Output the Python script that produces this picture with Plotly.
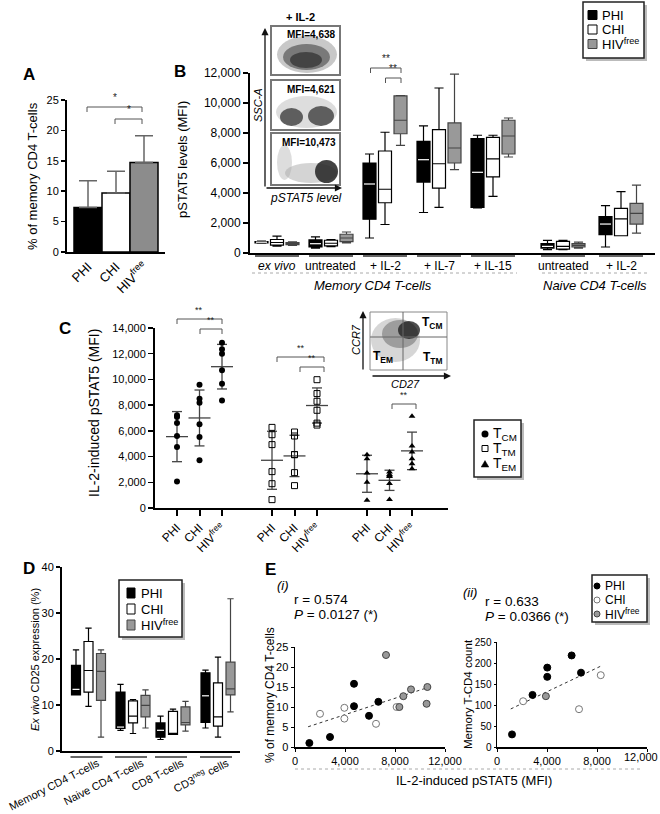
import numpy as np
import plotly.graph_objects as go

W, H = 660, 814
FONT = "Liberation Sans, Arial, Helvetica, sans-serif"
BLACK = "#000000"
GRAY = "#999999"
DGRAY = "#555555"

# ================= DATA =================
GROUP_LABELS = ["PHI", "CHI", "HIV<sup>free</sup>"]

# Panel A: % of memory CD4 T-cells (mean, SD)
A_MEAN = [7.3, 9.7, 14.7]
A_SD = [4.4, 3.6, 4.4]

# Panel B: pSTAT5 MFI box statistics per condition
B_CONDITIONS = ["<i>ex vivo</i>", "untreated", "+ IL-2", "+ IL-7", "+ IL-15", "untreated", "+ IL-2"]
B_POPULATIONS = ["<i>Memory CD4 T-cells</i>", "<i>Naive CD4 T-cells</i>"]
B_PHI_LO = [650, 330, 1000, 2700, 3000, 220, 400]
B_PHI_Q1 = [680, 400, 2250, 4730, 3040, 330, 1230]
B_PHI_MED = [720, 620, 4600, 6220, 5380, 440, 1930]
B_PHI_Q3 = [760, 870, 6000, 7440, 7630, 620, 2420]
B_PHI_HI = [790, 1070, 6600, 8480, 7850, 840, 3160]
B_CHI_LO = [450, 420, 1900, 3040, 3780, 220, 1150]
B_CHI_Q1 = [530, 470, 3350, 4330, 5070, 260, 1150]
B_CHI_MED = [700, 650, 4250, 5950, 6270, 440, 2270]
B_CHI_Q3 = [900, 850, 6800, 8220, 7710, 770, 2980]
B_CHI_HI = [1130, 900, 8050, 11000, 7850, 840, 4090]
B_HIV_LO = [500, 670, 7170, 5560, 6400, 330, 1330]
B_HIV_Q1 = [560, 760, 7950, 6000, 6600, 400, 1930]
B_HIV_MED = [620, 1000, 8850, 7000, 7800, 510, 2640]
B_HIV_Q3 = [700, 1250, 10480, 8670, 8850, 620, 3310]
B_HIV_HI = [750, 1400, 10500, 11930, 9000, 730, 4530]
B_INSET_MFI = ["MFI=4,638", "MFI=4,621", "MFI=10,473"]

# Panel C: IL-2-induced pSTAT5 (MFI) per subset and group
C_SUBSETS = ["T<sub>CM</sub>", "T<sub>TM</sub>", "T<sub>EM</sub>"]
C_TCM = [[7210, 7080, 6610, 5600, 4740, 2070],
         [9590, 8500, 8190, 6510, 5520, 3710],
         [12860, 12340, 12000, 10710, 9670, 8370]]
C_TTM = [[6270, 5700, 4930, 2830, 1890, 650],
         [5910, 5600, 4150, 4150, 2750, 1740],
         [9980, 8900, 8300, 7600, 6600, 6450]]
C_TEM = [[4150, 3840, 2720, 2000, 600],
         [2800, 2600, 2500, 2450, 1900, 670],
         [7130, 4820, 4360, 3840, 3450, 3060]]

# Panel D: ex vivo CD25 expression (%) box statistics
D_CELLS = ["Memory CD4 T-cells", "Naive CD4 T-cells", "CD8 T-cells", "CD3<sup>neg</sup> cells"]
D_PHI_LO = [12.2, 4.5, 2.5, 5.0]
D_PHI_Q1 = [12.2, 4.9, 3.0, 6.2]
D_PHI_MED = [13.4, 5.2, 4.5, 12.0]
D_PHI_Q3 = [18.6, 12.8, 6.1, 17.0]
D_PHI_HI = [22.0, 14.5, 7.6, 17.6]
D_CHI_LO = [9.7, 3.8, 3.6, 3.0]
D_CHI_Q1 = [12.8, 6.1, 3.6, 5.4]
D_CHI_MED = [17.5, 7.6, 3.8, 7.4]
D_CHI_Q3 = [23.8, 10.9, 8.6, 14.8]
D_CHI_HI = [26.7, 11.2, 9.1, 20.4]
D_HIV_LO = [3.0, 5.0, 4.3, 8.5]
D_HIV_Q1 = [11.0, 7.4, 5.7, 12.2]
D_HIV_MED = [17.3, 9.9, 6.2, 13.5]
D_HIV_Q3 = [21.2, 12.1, 9.6, 19.3]
D_HIV_HI = [22.0, 13.3, 10.8, 33.1]

# Panel E (i): pSTAT5 vs % of memory CD4 T-cells
E1_PHI_X = [1150, 2800, 4720, 4720, 5920, 6670]
E1_PHI_Y = [1.0, 2.5, 15.8, 10.2, 7.8, 11.3]
E1_CHI_X = [2000, 3950, 3950, 6480, 8130]
E1_CHI_Y = [8.3, 9.8, 7.1, 5.8, 10.0]
E1_HIV_X = [7280, 8350, 8670, 9280, 10590, 10530]
E1_HIV_Y = [23.0, 10.0, 12.7, 14.4, 15.0, 10.8]
E1_STATS = ["r = 0.574", "<i>P</i> = 0.0127 (*)"]
# Panel E (ii): pSTAT5 vs memory T-CD4 count
E2_PHI_X = [1200, 2840, 4020, 4020, 5970, 6720]
E2_PHI_Y = [30, 124, 167, 189, 218, 177]
E2_CHI_X = [2090, 6560, 8300]
E2_CHI_Y = [109, 90, 171]
E2_HIV_X = [3910]
E2_HIV_Y = [121]
E2_STATS = ["r = 0.633", "<i>P</i> = 0.0366 (*)"]
E_XTICKS = [0, 4000, 8000, 12000]
E_XTICKTEXT = ["0", "4,000", "8,000", "12,000"]

# ================= LAYOUT CONSTANTS (pixel positions) =================
B_GROUP_X = [277, 331, 385, 439, 493, 563, 621]
B_OFF = 15.5
B_BOX_W = 13
C_TICK_X = [177, 199.5, 222, 272, 294.5, 317, 367, 389.5, 412]
D_GROUP_X = [88.5, 133, 173, 218]
D_OFF = 12.5
D_BOX_W = 9


def PX(x):
    return x / W


def PY(y):
    return 1 - y / H


def xd(x0, x1):
    return [x0 / W, x1 / W]


def yd(top, bottom):
    return [1 - bottom / H, 1 - top / H]


annotations = []
shapes = []


def text(x, y, s, size=12, xa="center", ya="middle", angle=0, color=BLACK):
    annotations.append(dict(x=PX(x), y=PY(y), xref="paper", yref="paper", text=s,
                            showarrow=False, xanchor=xa, yanchor=ya, textangle=angle,
                            font=dict(family=FONT, size=size, color=color)))


def arrow(hx, hy, tx, ty, color="#111111"):
    annotations.append(dict(x=PX(hx), y=PY(hy), xref="paper", yref="paper", text="",
                            showarrow=True, axref="pixel", ayref="pixel",
                            ax=tx - hx, ay=ty - hy, arrowhead=2, arrowsize=1.1,
                            arrowwidth=1.3, arrowcolor=color,
                            font=dict(family=FONT, size=10)))


def seg(x0, y0, x1, y1, color=BLACK, width=1, dash="solid"):
    shapes.append(dict(type="line", xref="paper", yref="paper", x0=PX(x0), y0=PY(y0),
                       x1=PX(x1), y1=PY(y1), line=dict(color=color, width=width, dash=dash)))


def rect(x0, y0, x1, y1, fill="white", color=BLACK, width=1, opacity=1.0):
    shapes.append(dict(type="rect", xref="paper", yref="paper", x0=PX(x0), y0=PY(y1),
                       x1=PX(x1), y1=PY(y0), fillcolor=fill, opacity=opacity,
                       line=dict(color=color, width=width)))


def ellipse(x0, y0, x1, y1, fill="#444", opacity=0.5):
    shapes.append(dict(type="circle", xref="paper", yref="paper", x0=PX(x0), y0=PY(y1),
                       x1=PX(x1), y1=PY(y0), fillcolor=fill, opacity=opacity,
                       line=dict(width=0)))


def tri(cx, cy, s, fill=BLACK):
    path = (f"M {PX(cx - s)},{PY(cy + s * 0.8)} L {PX(cx + s)},{PY(cy + s * 0.8)} "
            f"L {PX(cx)},{PY(cy - s * 0.9)} Z")
    shapes.append(dict(type="path", xref="paper", yref="paper", path=path,
                       fillcolor=fill, line=dict(color=fill, width=0.5)))


def bracket(x0, x1, y, stars, drop=5, size=10):
    path = (f"M {PX(x0)},{PY(y + drop)} L {PX(x0)},{PY(y)} L {PX(x1)},{PY(y)} "
            f"L {PX(x1)},{PY(y + drop)}")
    shapes.append(dict(type="path", xref="paper", yref="paper", path=path,
                       line=dict(color="#555555", width=1)))
    text((x0 + x1) / 2, y - 2, stars, size=size, ya="bottom", color="#222222")


fig = go.Figure()

AX = dict(showgrid=False, zeroline=False, showline=True, linecolor=BLACK,
          ticks="outside", tickcolor=BLACK, fixedrange=True, automargin=False)

# ================= PANEL A =================
a_x = [0.75, 1.75, 2.75]
fig.add_trace(go.Bar(x=a_x, y=A_MEAN, width=1, xaxis="x", yaxis="y",
                     marker=dict(color=[BLACK, "white", "#8c8c8c"], line=dict(color=BLACK, width=1.5)),
                     error_y=dict(type="data", array=A_SD, arrayminus=[0] * 3, symmetric=False,
                                  color="#666666", thickness=1.5, width=9),
                     hoverinfo="skip"))
layout_axes = {}
layout_axes["xaxis"] = dict(AX, domain=xd(67, 165), range=[0, 3.5], anchor="y",
                            tickvals=a_x, ticktext=GROUP_LABELS, tickangle=-45, ticks="",
                            linewidth=2, tickfont=dict(size=13))
layout_axes["yaxis"] = dict(AX, domain=yd(100, 252), range=[0, 25], anchor="x", dtick=5,
                            linewidth=2, ticklen=4, tickwidth=1.5, tickfont=dict(size=11))
text(29, 74, "<b>A</b>", size=17)
text(32, 176, "% of memory CD4 T-cells", size=13, angle=-90)
bracket(87, 142, 107, "*")
bracket(115, 142, 119, "*")


# ================= PANEL B =================
def add_boxes(xs, lo, q1, med, q3, hi, width, fill, lcolor, xa, ya, white_median=False):
    fig.add_trace(go.Box(x=xs, lowerfence=lo, q1=q1, median=med, q3=q3, upperfence=hi,
                         width=width, fillcolor=fill, line=dict(color=lcolor, width=1.2),
                         whiskerwidth=0.7, boxpoints=False, xaxis=xa, yaxis=ya,
                         hoverinfo="skip"))
    if white_median:
        mx, my = [], []
        for x, m in zip(xs, med):
            mx += [x - width / 2 + 1, x + width / 2 - 1, None]
            my += [m, m, None]
        fig.add_trace(go.Scatter(x=mx, y=my, mode="lines", line=dict(color="white", width=1.2),
                                 xaxis=xa, yaxis=ya, hoverinfo="skip"))


bx = np.array(B_GROUP_X, dtype=float)
add_boxes(list(bx - B_OFF), B_PHI_LO, B_PHI_Q1, B_PHI_MED, B_PHI_Q3, B_PHI_HI, B_BOX_W,
          BLACK, BLACK, "x2", "y2", white_median=True)
add_boxes(list(bx), B_CHI_LO, B_CHI_Q1, B_CHI_MED, B_CHI_Q3, B_CHI_HI, B_BOX_W,
          "white", BLACK, "x2", "y2")
add_boxes(list(bx + B_OFF), B_HIV_LO, B_HIV_Q1, B_HIV_MED, B_HIV_Q3, B_HIV_HI, B_BOX_W,
          GRAY, "#444444", "x2", "y2")
layout_axes["xaxis2"] = dict(AX, domain=xd(250, 655), range=[250, 655], anchor="y2",
                             showticklabels=False, ticks="", linewidth=2)
layout_axes["yaxis2"] = dict(AX, domain=yd(73, 253), range=[0, 12000], anchor="x2", dtick=2000,
                             tickformat=",d", linewidth=2, ticklen=5, tickwidth=1.5,
                             tickfont=dict(size=12))
text(180, 72, "<b>B</b>", size=17)
text(183, 160, "pSTAT5 levels (MFI)", size=13, angle=-90)
for gx, lab in zip(B_GROUP_X, B_CONDITIONS):
    seg(gx - 22, 256, gx + 22, 256, color="#333333", width=1.5)
    text(gx, 266, lab, size=12)
seg(252, 273, 517, 273, color="#aaaaaa", width=1, dash="dot")
seg(542, 273, 647, 273, color="#aaaaaa", width=1, dash="dot")
text(373, 285, B_POPULATIONS[0], size=13)
text(595, 285, B_POPULATIONS[1], size=13)
bracket(370.5, 401, 68, "**")
bracket(385.5, 401, 78, "**")

# inset flow plots
text(300, 17, "<b>+ IL-2</b>", size=11)
inset_boxes = [(26, 75), (80, 130), (133, 185)]
for (t, b) in inset_boxes:
    rect(271, t, 340, b, fill="white", color="#777777", width=2)
# density clouds (decorative)
ellipse(277, 36, 337, 73, fill="#9a9a9a", opacity=0.55)
ellipse(283, 44, 330, 70, fill="#444444", opacity=0.6)
ellipse(290, 52, 322, 68, fill="#222222", opacity=0.6)
ellipse(276, 96, 337, 128, fill="#bbbbbb", opacity=0.5)
ellipse(280, 108, 303, 126, fill="#333333", opacity=0.75)
ellipse(308, 106, 334, 126, fill="#333333", opacity=0.75)
ellipse(277, 145, 292, 180, fill="#bbbbbb", opacity=0.5)
ellipse(285, 163, 337, 183, fill="#aaaaaa", opacity=0.5)
ellipse(315, 160, 338, 183, fill="#222222", opacity=0.85)
for (t, b), mfi in zip(inset_boxes, B_INSET_MFI):
    text(338, t + 9, f"<b>{mfi}</b>", size=10, xa="right")
arrow(265, 28, 265, 188)
arrow(342, 188, 265, 188)
text(258, 105, "<i>SSC-A</i>", size=11, angle=-90)
text(306, 198, "<i>pSTAT5 level</i>", size=12)

# legend B
rect(586, 5, 647, 61, fill="#bbbbbb", color="#bbbbbb", width=0)
rect(583, 2, 644, 58, fill="white", color="#222222", width=1.5)
leg_fill = [BLACK, "white", GRAY]
leg_line = [BLACK, BLACK, "#444444"]
for i, (lab, f, lc) in enumerate(zip(GROUP_LABELS, leg_fill, leg_line)):
    yy = 15 + i * 14.5
    rect(588, yy - 4.5, 597, yy + 4.5, fill=f, color=lc, width=1)
    text(600, yy, lab, size=13, xa="left")

# ================= PANEL C =================
C_MARKERS = [dict(symbol="circle", size=6, color=BLACK),
             dict(symbol="square-open", size=6, color=BLACK, line=dict(width=1)),
             dict(symbol="triangle-up", size=6, color=BLACK)]
for si, subset in enumerate([C_TCM, C_TTM, C_TEM]):
    for gi, vals in enumerate(subset):
        xc = C_TICK_X[si * 3 + gi]
        v = np.array(vals, dtype=float)
        m, s = v.mean(), v.std(ddof=1)
        lx = [xc - 11, xc + 11, None, xc - 5, xc + 5, None, xc - 5, xc + 5, None, xc, xc]
        ly = [m, m, None, m + s, m + s, None, m - s, m - s, None, m - s, m + s]
        fig.add_trace(go.Scatter(x=lx, y=ly, mode="lines", line=dict(color="#444444", width=1.3),
                                 xaxis="x3", yaxis="y3", hoverinfo="skip"))
        fig.add_trace(go.Scatter(x=[xc] * len(v), y=v, mode="markers", marker=C_MARKERS[si],
                                 xaxis="x3", yaxis="y3", hoverinfo="skip"))
layout_axes["xaxis3"] = dict(AX, domain=xd(155, 448), range=[155, 448], anchor="y3",
                             tickvals=C_TICK_X, ticktext=GROUP_LABELS * 3, tickangle=-45,
                             linewidth=2, ticklen=6, tickwidth=2, tickfont=dict(size=12))
layout_axes["yaxis3"] = dict(AX, domain=yd(328, 508), range=[0, 14000], anchor="x3", dtick=2000,
                             tickformat=",d", linewidth=2, ticklen=5, tickwidth=1.5,
                             tickfont=dict(size=11))
text(65, 328, "<b>C</b>", size=17)
text(94, 413, "IL-2-induced pSTAT5 (MFI)", size=14, angle=-90)
bracket(177, 222, 319, "**", size=9)
bracket(200, 222, 329, "**", size=9)
bracket(277, 324, 357, "**", size=9)
bracket(300, 324, 367, "**", size=9)
bracket(392, 416, 404, "**", size=9)

# inset C
rect(370, 312, 447, 370, fill="white", color="#888888", width=1)
ellipse(371, 318, 420, 362, fill="#bbbbbb", opacity=0.6)
ellipse(382, 320, 418, 348, fill="#777777", opacity=0.6)
ellipse(398, 321, 420, 339, fill="#222222", opacity=0.8)
seg(403, 312, 403, 370, color="#666666", width=1)
seg(370, 337, 447, 337, color="#666666", width=1)
text(432, 323, "<b>T<sub>CM</sub></b>", size=12)
text(383, 357, "<b>T<sub>EM</sub></b>", size=12)
text(432, 358, "<b>T<sub>TM</sub></b>", size=12)
arrow(363, 311, 363, 371)
arrow(451, 376, 371, 376)
text(356, 340, "<i>CCR7</i>", size=11, angle=-90)
text(405, 384, "<i>CD27</i>", size=11)

# legend C
rect(477, 423, 524, 480, fill="#bbbbbb", color="#bbbbbb", width=0)
rect(474, 420, 521, 477, fill="white", color="#222222", width=1.5)
ellipse(481.5, 430.5, 488.5, 437.5, fill=BLACK, opacity=1)
rect(482, 445.5, 488, 451.5, fill="white", color=BLACK, width=1)
tri(485, 464, 3.8)
for i, lab in enumerate(C_SUBSETS):
    text(491, 434 + i * 15, lab, size=14, xa="left")

# ================= PANEL D =================
dx = np.array(D_GROUP_X, dtype=float)
add_boxes(list(dx - D_OFF), D_PHI_LO, D_PHI_Q1, D_PHI_MED, D_PHI_Q3, D_PHI_HI, D_BOX_W,
          BLACK, BLACK, "x4", "y4", white_median=True)
add_boxes(list(dx), D_CHI_LO, D_CHI_Q1, D_CHI_MED, D_CHI_Q3, D_CHI_HI, D_BOX_W,
          "white", BLACK, "x4", "y4")
add_boxes(list(dx + D_OFF), D_HIV_LO, D_HIV_Q1, D_HIV_MED, D_HIV_Q3, D_HIV_HI, D_BOX_W,
          GRAY, "#444444", "x4", "y4")
layout_axes["xaxis4"] = dict(AX, domain=xd(62, 240), range=[62, 240], anchor="y4",
                             tickvals=list(dx + 9), ticktext=D_CELLS, tickangle=-27, ticks="",
                             linewidth=2, tickfont=dict(size=11))
layout_axes["yaxis4"] = dict(AX, domain=yd(567, 751), range=[0, 40], anchor="x4", dtick=10,
                             linewidth=2, ticklen=4, tickwidth=1.5, tickfont=dict(size=11))
text(29, 568, "<b>D</b>", size=17)
text(35, 660, "<i>Ex vivo</i> CD25 expression (%)", size=11, angle=-90)
for gx in D_GROUP_X:
    seg(gx - 18, 757, gx + 14, 757, color="#333333", width=1.5)
# legend D
rect(122, 583, 185, 640, fill="#bbbbbb", color="#bbbbbb", width=0)
rect(119, 580, 182, 637, fill="white", color="#222222", width=1.5)
for i, (lab, f, lc) in enumerate(zip(GROUP_LABELS, leg_fill, leg_line)):
    yy = 593 + i * 16
    rect(127, yy - 5, 135, yy + 5, fill=f, color=lc, width=1)
    text(139, yy, lab, size=13, xa="left")

# ================= PANEL E =================
E_MK = [dict(symbol="circle", size=7, color=BLACK, line=dict(color=BLACK, width=1)),
        dict(symbol="circle", size=7, color="white", line=dict(color="#777777", width=1)),
        dict(symbol="circle", size=7, color="#999999", line=dict(color="#444444", width=1))]


def e_panel(xs_list, ys_list, xa, ya):
    allx = np.concatenate([np.array(v, float) for v in xs_list])
    ally = np.concatenate([np.array(v, float) for v in ys_list])
    k, b = np.polyfit(allx, ally, 1)
    lx = np.array([allx.min() - 100, allx.max() + 100])
    fig.add_trace(go.Scatter(x=lx, y=k * lx + b, mode="lines",
                             line=dict(color="#333333", width=1, dash="dot"),
                             xaxis=xa, yaxis=ya, hoverinfo="skip"))
    for xs, ys, mk in zip(xs_list, ys_list, E_MK):
        fig.add_trace(go.Scatter(x=xs, y=ys, mode="markers", marker=mk, xaxis=xa, yaxis=ya,
                                 hoverinfo="skip"))


e_panel([E1_PHI_X, E1_CHI_X, E1_HIV_X], [E1_PHI_Y, E1_CHI_Y, E1_HIV_Y], "x5", "y5")
e_panel([E2_PHI_X, E2_CHI_X, E2_HIV_X], [E2_PHI_Y, E2_CHI_Y, E2_HIV_Y], "x6", "y6")
EAX = dict(AX, linewidth=1.5, ticklen=3, tickwidth=1, tickfont=dict(size=11))
layout_axes["xaxis5"] = dict(EAX, domain=xd(295, 445), range=[0, 12000], anchor="y5",
                             tickvals=E_XTICKS, ticktext=E_XTICKTEXT)
layout_axes["yaxis5"] = dict(EAX, domain=yd(647, 747), range=[0, 25], anchor="x5", dtick=5)
# last label of (ii) sits at the page edge: drawn as annotation so it is not dropped
layout_axes["xaxis6"] = dict(EAX, domain=xd(497, 647), range=[0, 12000], anchor="y6",
                             tickvals=E_XTICKS, ticktext=E_XTICKTEXT[:-1] + [""])
layout_axes["yaxis6"] = dict(EAX, domain=yd(642, 747), range=[0, 250], anchor="x6", dtick=50,
                             ticklen=2, tickfont=dict(size=10))
text(660, 757, E_XTICKTEXT[-1], size=11, xa="right")
text(270, 569, "<b>E</b>", size=17)
text(283, 585, "<i>(i)</i>", size=13)
text(292, 599, E1_STATS[0], size=13.5, xa="left")
text(292, 614, E1_STATS[1], size=13.5, xa="left")
text(470, 592, "<i>(ii)</i>", size=13)
text(483, 601, E2_STATS[0], size=13.5, xa="left")
text(483, 616, E2_STATS[1], size=13.5, xa="left")
text(270, 695, "% of memory CD4 T-cells", size=12, angle=-90)
text(468, 694, "Memory T-CD4 count", size=11.5, angle=-90)
seg(295, 769, 640, 769, color="#aaaaaa", width=1, dash="dot")
text(474, 780, "IL-2-induced pSTAT5 (MFI)", size=13)
# legend E
rect(595, 578, 650, 625, fill="#bbbbbb", color="#bbbbbb", width=0)
rect(592, 575, 647, 622, fill="white", color="#222222", width=1.5)
e_fill = [BLACK, "white", "#999999"]
e_line = [BLACK, "#777777", "#444444"]
for i, (lab, f, lc) in enumerate(zip(GROUP_LABELS, e_fill, e_line)):
    yy = 586 + i * 14
    shapes.append(dict(type="circle", xref="paper", yref="paper", x0=PX(594), x1=PX(600),
                       y0=PY(yy + 3), y1=PY(yy - 3), fillcolor=f, line=dict(color=lc, width=1)))
    text(603, yy, lab, size=12, xa="left")

fig.update_layout(template="none", width=W, height=H, autosize=False,
                  margin=dict(l=0, r=0, t=0, b=0, pad=0),
                  paper_bgcolor="white", plot_bgcolor="white",
                  showlegend=False, boxmode="overlay", bargap=0,
                  font=dict(family=FONT, size=11, color=BLACK),
                  annotations=annotations, shapes=shapes, **layout_axes)

fig.write_html("out.html", config={"displayModeBar": False, "staticPlot": True},
               post_script="document.body.style.margin='0';document.body.style.overflow='hidden';")
